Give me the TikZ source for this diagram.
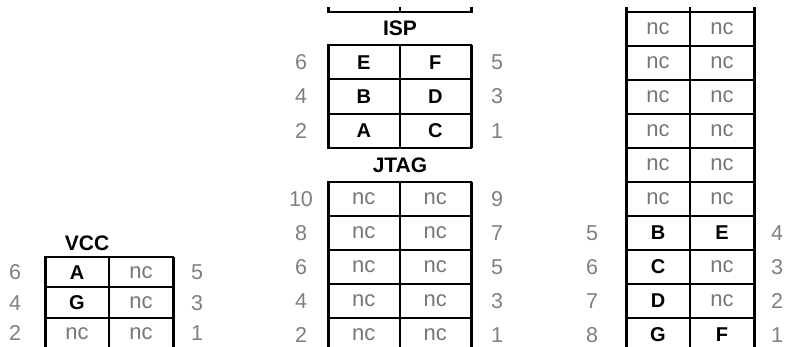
\documentclass[tikz,border=0pt]{standalone}
\usepackage{fontspec}
\setmainfont{Liberation Sans}
\definecolor{numgrey}{HTML}{7F7F7F}
\definecolor{ncgrey}{HTML}{767676}
\tikzset{
  cellbase/.style={draw, line width=2pt, inner sep=0pt, outer sep=0pt},
  midcell/.style={cellbase, minimum width=71.5pt, minimum height=34.33pt},
  jcell/.style={cellbase, minimum width=71.5pt, minimum height=34pt},
  rcell/.style={cellbase, minimum width=64pt, minimum height=34pt},
  vcell/.style={cellbase, minimum width=64pt, minimum height=30.5pt},
  sig/.style={font=\fontsize{20}{20}\selectfont\bfseries, text=black},
  nc/.style={font=\fontsize{22}{22}\selectfont, text=ncgrey},
  pinnum/.style={font=\fontsize{21.5}{21.5}\selectfont, text=numgrey, inner sep=0pt},
  title/.style={font=\fontsize{21}{21}\selectfont\bfseries, inner sep=0pt},
  outer/.style={line width=3pt},
}
\begin{document}
\begin{tikzpicture}[x=1pt, y=-1pt]
\useasboundingbox (0,0) rectangle (785,347);

% ---------- top fragment of middle column ----------
\draw[line width=2pt] (328,12) -- (471,12);
\draw[outer] (328,7) -- (328,13);
\draw[line width=2pt] (399.5,7) -- (399.5,12);
\draw[outer] (471,7) -- (471,13);

% ---------- ISP ----------
\node[title] (ispt) at (400,28) {ISP};
\node[midcell, sig] (isp6) at (363.75,62.17) {E};
\node[midcell, sig] (isp5) at (435.25,62.17) {F};
\node[midcell, sig] (isp4) at (363.75,96.5) {B};
\node[midcell, sig] (isp3) at (435.25,96.5) {D};
\node[midcell, sig] (isp2) at (363.75,130.83) {A};
\node[midcell, sig] (isp1) at (435.25,130.83) {C};
\draw[outer] (isp6.north west) -- (isp2.south west);
\draw[outer] (isp5.north east) -- (isp1.south east);
\node[pinnum] (ispn6) at (301,62.17) {6};
\node[pinnum] (ispn5) at (497,62.17) {5};
\node[pinnum] (ispn4) at (301,96.5) {4};
\node[pinnum] (ispn3) at (497,96.5) {3};
\node[pinnum] (ispn2) at (301,130.83) {2};
\node[pinnum] (ispn1) at (497,130.83) {1};

% ---------- JTAG ----------
\node[title] (jtagt) at (400,165) {JTAG};
\foreach \r/\y/\l/\rr in {1/199/10/9, 2/233/8/7, 3/267/6/5, 4/301/4/3, 5/335/2/1} {
  \node[jcell, nc] (jl\r) at (363.75,\y) {nc};
  \node[jcell, nc] (jr\r) at (435.25,\y) {nc};
  \node[pinnum] (jnl\r) at (301,\y) {\l};
  \node[pinnum] (jnr\r) at (497,\y) {\rr};
}
\draw[outer] (jl1.north west) -- (jl5.south west);
\draw[outer] (jr1.north east) -- (jr5.south east);

% ---------- right connector ----------
\draw[outer] (626,7) -- (626,13);
\draw[line width=2pt] (690,7) -- (690,12);
\draw[outer] (754,7) -- (754,13);
\foreach \r/\y in {1/29, 2/63, 3/97, 4/131, 5/165, 6/199} {
  \node[rcell, nc] (rl\r) at (658,\y) {nc};
  \node[rcell, nc] (rr\r) at (722,\y) {nc};
}
\node[rcell, sig] (rl7) at (658,233) {B};
\node[rcell, sig] (rr7) at (722,233) {E};
\node[rcell, sig] (rl8) at (658,267) {C};
\node[rcell, nc] (rr8) at (722,267) {nc};
\node[rcell, sig] (rl9) at (658,301) {D};
\node[rcell, nc] (rr9) at (722,301) {nc};
\node[rcell, sig] (rl10) at (658,335) {G};
\node[rcell, sig] (rr10) at (722,335) {F};
\draw[outer] (rl1.north west) -- (rl10.south west);
\draw[outer] (rr1.north east) -- (rr10.south east);
\node[pinnum] (rn5) at (592,233) {5};
\node[pinnum] (rn4) at (777,233) {4};
\node[pinnum] (rn6) at (592,267) {6};
\node[pinnum] (rn3) at (777,267) {3};
\node[pinnum] (rn7) at (592,301) {7};
\node[pinnum] (rn2) at (777,301) {2};
\node[pinnum] (rn8) at (592,335) {8};
\node[pinnum] (rn1) at (777,335) {1};

% ---------- VCC ----------
\node[title] (vcct) at (87,243) {VCC};
\node[vcell, sig] (v6) at (77,272.25) {A};
\node[vcell, nc] (v5) at (141,272.25) {nc};
\node[vcell, sig] (v4) at (77,302.75) {G};
\node[vcell, nc] (v3) at (141,302.75) {nc};
\node[vcell, nc] (v2) at (77,333.25) {nc};
\node[vcell, nc] (v1) at (141,333.25) {nc};
\draw[outer] (v6.north west) -- (v2.south west);
\draw[outer] (v5.north east) -- (v1.south east);
\node[pinnum] (vn6) at (15,272.25) {6};
\node[pinnum] (vn5) at (197,272.25) {5};
\node[pinnum] (vn4) at (15,302.75) {4};
\node[pinnum] (vn3) at (197,302.75) {3};
\node[pinnum] (vn2) at (15,333.25) {2};
\node[pinnum] (vn1) at (197,333.25) {1};
\end{tikzpicture}
\end{document}
